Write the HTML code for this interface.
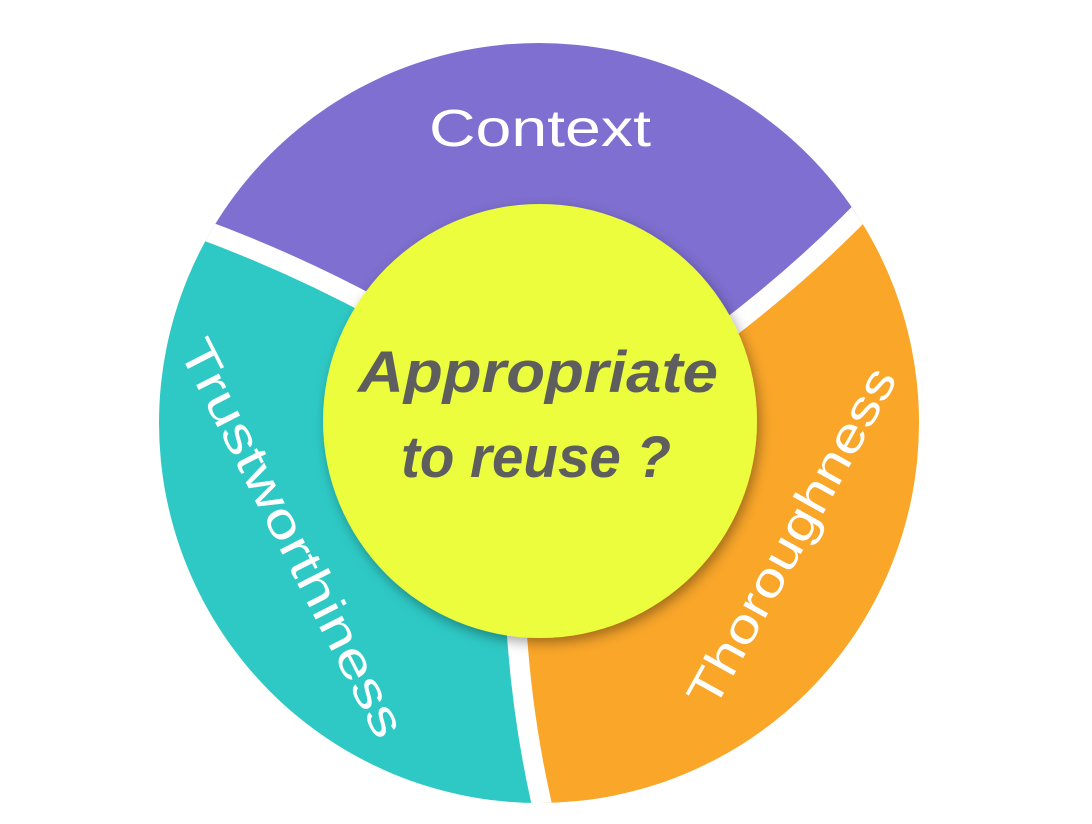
<!DOCTYPE html>
<html><head><style>html,body{margin:0;padding:0;background:#fff;overflow:hidden;width:1092px;height:824px}svg{display:block}</style></head>
<body>
<svg width="1092" height="824" viewBox="0 0 1092 824" xmlns="http://www.w3.org/2000/svg">
<defs>
<clipPath id="c"><circle cx="539" cy="423" r="380"/></clipPath>
<filter id="sh" x="-20%" y="-20%" width="140%" height="140%"><feDropShadow dx="3" dy="5" stdDeviation="6" flood-color="#000" flood-opacity="0.35"/></filter>
</defs>
<g clip-path="url(#c)">
<path d="M-100,-100 L1200,-100 L900,170 Q820,260 720,335 L539,423 L380,310 Q260,245 130,205 L-100,130 Z" fill="#7E6FD0"/>
<path d="M130,205 Q260,245 380,310 L539,423 L515,600 Q520,720 548,830 L-100,1000 L-100,130 Z" fill="#2EC9C5"/>
<path d="M900,170 Q820,260 720,335 L539,423 L515,600 Q520,720 548,830 L1200,1000 L1200,-100 Z" fill="#F9A629"/>
<path d="M130,205 Q260,245 380,310" stroke="#fff" stroke-width="20" fill="none"/>
<path d="M900,170 Q820,260 720,335" stroke="#fff" stroke-width="20" fill="none"/>
<path d="M515,600 Q520,720 548,830" stroke="#fff" stroke-width="20" fill="none"/>
</g>
<circle cx="540" cy="421" r="217" fill="#EBFD3C" filter="url(#sh)"/>
<text x="540" y="146" text-anchor="middle" font-family="Liberation Sans, sans-serif" font-size="52" fill="#fff" textLength="222" lengthAdjust="spacingAndGlyphs">Context</text>
<text transform="translate(292,538) rotate(63)" text-anchor="middle" font-family="Liberation Sans, sans-serif" font-size="48" fill="#fff" y="16" textLength="440" lengthAdjust="spacingAndGlyphs">Trustworthiness</text>
<text transform="translate(792,537) rotate(-61)" text-anchor="middle" font-family="Liberation Sans, sans-serif" font-size="48" fill="#fff" y="16" textLength="380" lengthAdjust="spacingAndGlyphs">Thoroughness</text>
<text x="538" y="392" text-anchor="middle" font-family="Liberation Sans, sans-serif" font-weight="bold" font-style="italic" font-size="58" fill="#5e5e5e" textLength="360" lengthAdjust="spacingAndGlyphs">Appropriate</text>
<text x="536" y="477" text-anchor="middle" font-family="Liberation Sans, sans-serif" font-weight="bold" font-style="italic" font-size="58" fill="#5e5e5e" textLength="270" lengthAdjust="spacingAndGlyphs">to reuse ?</text>
</svg>
</body></html>
